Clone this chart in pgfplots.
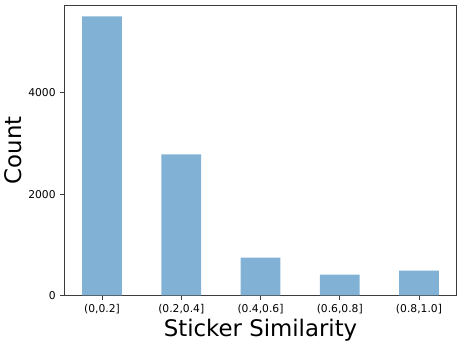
\documentclass[border=0pt]{standalone}
\usepackage{fontspec}
\setmainfont{DejaVu Sans}
\usepackage{pgfplots}
\pgfplotsset{compat=1.18}
\definecolor{barblue}{RGB}{129,178,213}
\definecolor{framegray}{RGB}{60,60,60}
\begin{document}
\begin{tikzpicture}
\begin{axis}[
  scale only axis,
  width=292pt, height=216pt,
  xmin=-0.475, xmax=4.475,
  ymin=0, ymax=5725,
  xtick={0,1,2,3,4},
  xticklabels={{(0,0.2]},{(0.2,0.4]},{(0.4,0.6]},{(0.6,0.8]},{(0.8,1.0]}},
  ytick={0,2000,4000},
  scaled y ticks=false,
  /pgf/number format/assume math mode=true,
  /pgf/number format/1000 sep={},
  tick label style={font=\fontsize{8}{9.5}\selectfont},
  tick align=outside,
  tick pos=left,
  major tick length=3pt,
  axis line style={framegray, line width=0.8pt},
  every tick/.style={framegray, line width=0.6pt},
  xlabel={Sticker Similarity},
  ylabel={Count},
  label style={font=\fontsize{17}{19}\selectfont},
  xlabel style={yshift=3pt},
  ylabel style={yshift=-2pt},
]
\addplot[ybar, bar width=0.5, fill=barblue, draw=none] coordinates {
  (0,5510) (1,2785) (2,745) (3,412) (4,490)
};
\end{axis}
\path (current axis.north east) ++(4pt,4pt);
\end{tikzpicture}
\end{document}
